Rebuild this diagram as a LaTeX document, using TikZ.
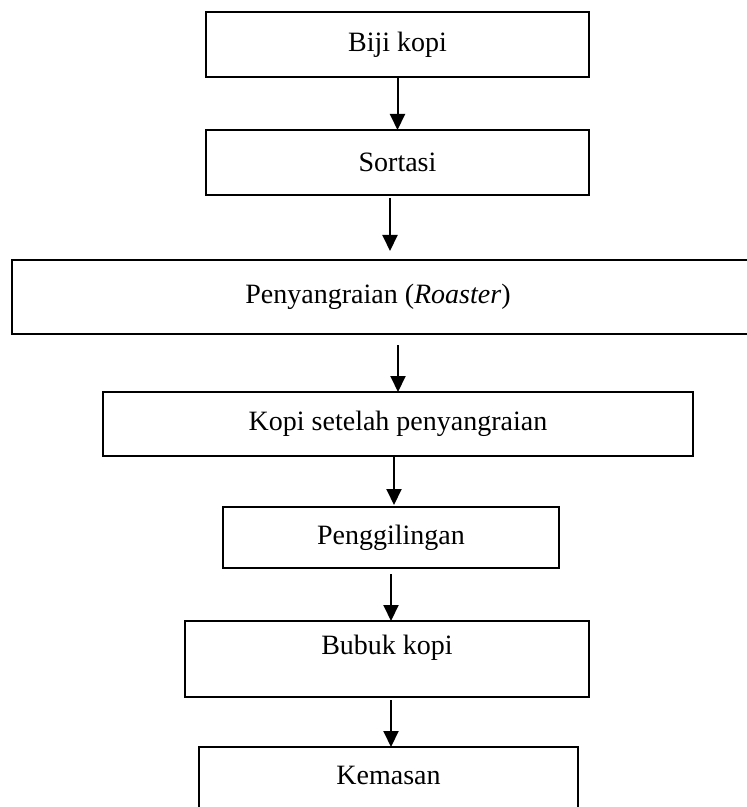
\documentclass[tikz,border=0pt]{standalone}
\usepackage{fontspec}
\setmainfont{Liberation Serif}
\usetikzlibrary{arrows.meta}

\newcommand\lift[2]{\raisebox{#1}[\height][\depth]{#2}} % shift text up, keep box size

\tikzset{
  >={Triangle[length=8pt,width=7.5pt]},
  stepbox/.style={draw,line width=1pt,inner sep=0pt,outer sep=0pt,
    font=\fontsize{14}{16}\selectfont},
  flow/.style={->,line width=1pt}
}

\begin{document}
\begin{tikzpicture}[x=0.5pt,y=-0.5pt]
	%% page, 747 x 807 px
	\clip (0,0) rectangle (747,807);
	\fill[white] (0,0) rectangle (747,807);

	%% process boxes
	\node[stepbox,minimum width=191.5pt,minimum height=32.5pt] (biji) at (397.5,44.5) {Biji kopi};
	\node[stepbox,minimum width=191.5pt,minimum height=32.5pt] (sortasi) at (397.5,162.5) {Sortasi};
	\node[stepbox,minimum width=370pt,minimum height=37pt] (roaster) at (382,297) {\hspace*{-4pt}Penyangraian (\textit{Roaster})};
	\node[stepbox,minimum width=295pt,minimum height=32pt] (roasted) at (398,424) {Kopi setelah penyangraian};
	\node[stepbox,minimum width=168pt,minimum height=30.5pt] (giling) at (391,537.5) {Penggilingan};
	\node[stepbox,minimum width=202pt,minimum height=38pt] (bubuk) at (387,659) {\lift{5.5pt}{Bubuk kopi}};
	\node[stepbox,minimum width=189.5pt,minimum height=50pt] (kemasan) at (388.5,797) {\lift{11pt}{Kemasan}};

	%% arrows
	\draw[flow] (biji.south) -- (sortasi.north);
	\draw[flow,shorten <=1.5pt,shorten >=4.5pt] ([xshift=-3.75pt]sortasi.south) -- ([xshift=-3.75pt]sortasi.south |- roaster.north);
	\draw[flow,shorten <=5.5pt] (roaster.south -| roasted.north) -- (roasted.north);
	\draw[flow,shorten >=1pt] ([xshift=-2pt]roasted.south) -- ([xshift=-2pt]roasted.south |- giling.north);
	\draw[flow,shorten <=3pt] (giling.south) -- (giling.south |- bubuk.north);
	\draw[flow,shorten <=1.5pt] ([xshift=2pt]bubuk.south) -- ([xshift=2pt]bubuk.south |- kemasan.north);
\end{tikzpicture}
\end{document}
